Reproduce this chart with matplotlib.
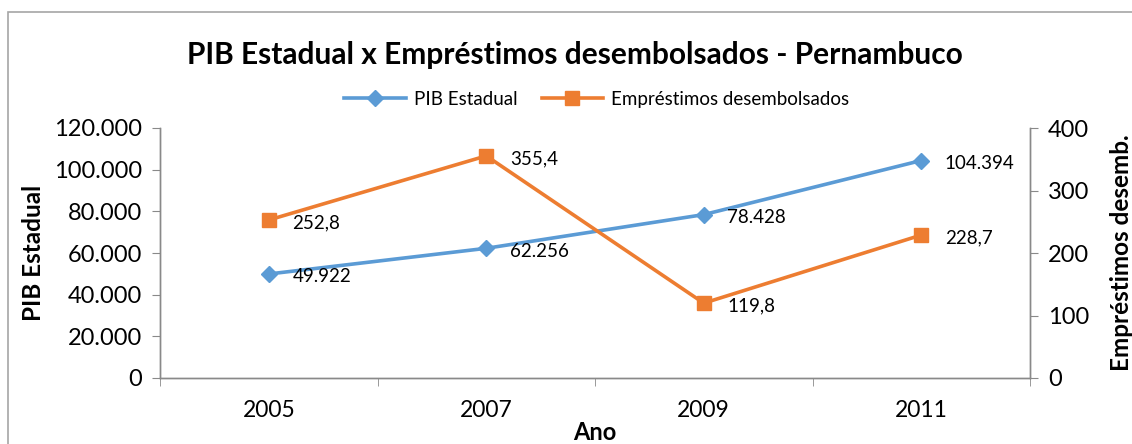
import matplotlib.pyplot as plt
from matplotlib.patches import Rectangle

anos = ['2005', '2007', '2009', '2011']
pib = [49922, 62256, 78428, 104394]
emprestimos = [252.8, 355.4, 119.8, 228.7]
pib_labels = ['49.922', '62.256', '78.428', '104.394']
emp_labels = ['252,8', '355,4', '119,8', '228,7']
pib_ticks = [0, 20000, 40000, 60000, 80000, 100000, 120000]
pib_tick_labels = ['0', '20.000', '40.000', '60.000', '80.000', '100.000', '120.000']
emp_ticks = [0, 100, 200, 300, 400]

plt.rcParams['font.family'] = ['Lato', 'DejaVu Sans']

azul = '#5B9BD5'
laranja = '#ED7D31'
cinza = '#898989'

fig = plt.figure(figsize=(11.32, 4.44), dpi=100)
fig.patches.append(Rectangle((8 / 1132, -0.1), 1.2, 1 - 12 / 444 + 0.1, transform=fig.transFigure,
                             fill=False, edgecolor='#a6a6a6', linewidth=1.2))
ax = fig.add_axes([160 / 1132, 1 - 378 / 444, 870 / 1132, 250 / 444])
ax2 = ax.twinx()

x = list(range(len(anos)))
l1, = ax.plot(x, pib, color=azul, linewidth=2.6, marker='D', markersize=8, label='PIB Estadual')
l2, = ax2.plot(x, emprestimos, color=laranja, linewidth=2.6, marker='s', markersize=9.5,
               label='Empréstimos desembolsados')

for i in range(len(x)):
    ax.annotate(pib_labels[i], (x[i], pib[i]), xytext=(17, -2), textcoords='offset points',
                ha='left', va='center', fontsize=13.5)
    ax2.annotate(emp_labels[i], (x[i], emprestimos[i]), xytext=(17, -2), textcoords='offset points',
                 ha='left', va='center', fontsize=13.5)

ax.set_xlim(-0.5, len(anos) - 0.5)
ax.set_ylim(0, 120000)
ax2.set_ylim(0, 400)
ax.set_yticks(pib_ticks)
ax.set_yticklabels(pib_tick_labels)
ax2.set_yticks(emp_ticks)
ax.set_xticks(x)
ax.set_xticklabels(anos)
ax.set_xticks([i - 0.5 for i in range(len(anos) + 1)], minor=True)
ax.tick_params(axis='x', which='major', length=0, pad=16, labelsize=16.5)
ax.tick_params(axis='x', which='minor', length=6, color=cinza, direction='out')
ax.tick_params(axis='y', length=6, color=cinza, labelsize=17, pad=7)
ax2.tick_params(axis='y', length=6, color=cinza, labelsize=17, pad=7)

for a in (ax, ax2):
    a.spines['top'].set_visible(False)
    for s in ('left', 'right', 'bottom'):
        a.spines[s].set_color(cinza)
        a.spines[s].set_linewidth(1)

ax.set_xlabel('Ano', fontsize=17, fontweight='bold', labelpad=0)
ax.set_ylabel('PIB Estadual', fontsize=17.5, fontweight='bold', labelpad=6)
ax2.set_ylabel('Empréstimos desemb.', fontsize=17.5, fontweight='bold', labelpad=15)

fig.text(0.508, 1 - 55 / 444, 'PIB Estadual x Empréstimos desembolsados - Pernambuco',
         ha='center', va='center', fontsize=21.5, fontweight='bold')
fig.legend(handles=[l1, l2], loc='center', bbox_to_anchor=(0.527, 1 - 99 / 444), ncol=2,
           frameon=False, fontsize=13.5, handlelength=3.3, columnspacing=1.3, handletextpad=0.4)

fig.savefig('out.png', dpi=100)
